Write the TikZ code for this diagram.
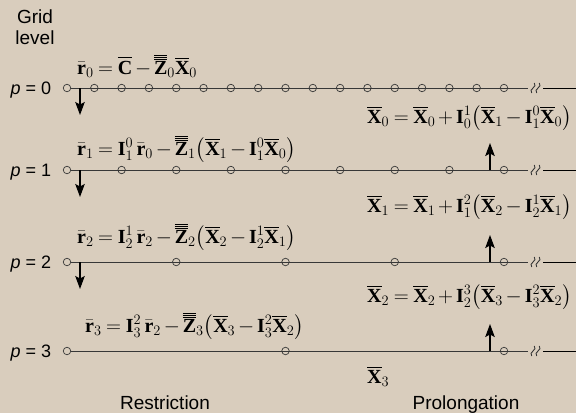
\documentclass[tikz,border=0pt]{standalone}
\usepackage{amsmath}
\usepackage{fontspec}
\setmainfont{Liberation Serif}
\setsansfont{Liberation Sans}
\usepackage{tikz}
\usetikzlibrary{arrows.meta,positioning,calc}
\definecolor{paper}{RGB}{217,205,189}
\definecolor{ink}{RGB}{55,55,55}
% tighter spacing round = + -
\thickmuskip=4mu plus 2mu
\medmuskip=2.5mu plus 1mu minus 1mu
% bold vector symbols used in the formulas
\newcommand{\bX}{\overline{\mathbf{X}}}
\newcommand{\bC}{\overline{\mathbf{C}}}
\newcommand{\bZ}{\mathord{\setbox0\hbox{$\mathbf{Z}$}\vbox{\hrule width\wd0 height 1pt
  \kern0.9pt\hrule width\wd0 height 1pt\kern0.9pt\hrule width\wd0 height 1pt
  \kern1.3pt\box0}}}
\newcommand{\br}{\bar{\mathbf{r}}}
\newcommand{\bI}{\mathbf{I}}
\tikzset{
  % grid point: small hollow circle
  gridpt/.style={draw=ink, circle, inner sep=0pt, minimum size=7.5pt, line width=0.7pt},
  % grid line and break mark
  gridline/.style={draw=ink, line width=1pt},
  breakmark/.style={draw=ink, line width=0.9pt},
  % labels
  plabel/.style={font=\sffamily\fontsize{18}{21}\selectfont, inner sep=0pt},
  sidelabel/.style={font=\sffamily\fontsize{19}{21}\selectfont, inner sep=0pt, align=center},
  eqn/.style={font=\fontsize{20}{24}\selectfont, inner sep=0pt, anchor=base west},
  % arrows
  restrarr/.style={-{Stealth[length=13pt,width=9.5pt,inset=2.5pt]}, line width=1.1pt},
  prolarr/.style={-{Stealth[length=13pt,width=9.5pt,inset=2.5pt]}, line width=1.1pt}
}

\begin{document}
\begin{tikzpicture}[x=1pt, y=-1pt]

% fixed frame
\fill[paper] (0,0) rectangle (576,413);
\useasboundingbox (0,0) rectangle (576,413);

\node[sidelabel] (gridlvl) at (35,27) {Grid\\level};

% grid levels: points, line, break mark, continuation
\foreach \p/\y/\m in {0/88/16, 1/170/8, 2/262/4, 3/351/2}{
  \foreach \i in {0,...,\m}{
    \node[gridpt] (g\p-\i) at ({67+\i*437/\m}, \y) {};
  }
  \coordinate (cut\p) at (528,\y);
  \coordinate (rest\p) at (543,\y);
  \coordinate (edge\p) at (576,\y);
  \draw[gridline] (g\p-0.east) -- (cut\p);
  \draw[gridline, draw=black] (rest\p) -- (edge\p);
  \foreach \bx in {533,538}{
    \draw[breakmark] ({\bx-1.3},{\y+5}) .. controls ({\bx-5},{\y+1}) and ({\bx+5},{\y-1}) .. ({\bx+1.3},{\y-5});
  }
  \node[plabel, left=11.5pt of g\p-0, yshift=-2.3pt] (p\p) {\textit{p} = \p};
}

% restriction arrows (down)
\foreach \p/\y in {0/88, 1/170, 2/262}{
  \coordinate (rs\p) at (80,\y);
  \coordinate (re\p) at (80,{\y+27});
  \draw[restrarr] (rs\p) -- (re\p);
}

% prolongation arrows (up)
\foreach \p/\y in {1/170, 2/262, 3/351}{
  \coordinate (ps\p) at (490,\y);
  \coordinate (pe\p) at (490,{\y-27});
  \draw[prolarr] (ps\p) -- (pe\p);
}

% restriction formulas
\node[eqn] (res0) at (77,74) {$\br_0 = \bC - \bZ_0\bX_0$};
\node[eqn] (res1) at (77,155) {$\br_1 = \bI_1^0\,\br_0 - \bZ_1\bigl(\bX_1 - \bI_1^0\bX_0\bigr)$};
\node[eqn] (res2) at (77,243) {$\br_2 = \bI_2^1\,\br_2 - \bZ_2\bigl(\bX_2 - \bI_2^1\bX_1\bigr)$};
\node[eqn] (res3) at (85,332) {$\br_3 = \bI_3^2\,\br_2 - \bZ_3\bigl(\bX_3 - \bI_3^2\bX_2\bigr)$};

% prolongation formulas
\node[eqn] (pro0) at (367,123) {$\bX_0 = \bX_0 + \bI_0^1\bigl(\bX_1 - \bI_1^0\bX_0\bigr)$};
\node[eqn] (pro1) at (367,212) {$\bX_1 = \bX_1 + \bI_1^2\bigl(\bX_2 - \bI_2^1\bX_1\bigr)$};
\node[eqn] (pro2) at (367,302) {$\bX_2 = \bX_2 + \bI_2^3\bigl(\bX_3 - \bI_3^2\bX_2\bigr)$};
\node[eqn] (pro3) at (367,383) {$\bX_3$};

% captions
\node[sidelabel, anchor=base] (restr) at (165,409) {Restriction};
\node[sidelabel, anchor=base] (prolo) at (466,409) {Prolongation};

\end{tikzpicture}
\end{document}
